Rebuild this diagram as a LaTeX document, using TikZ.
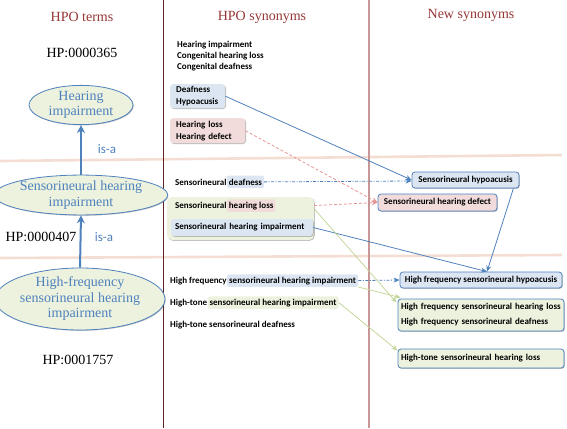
\documentclass[tikz,border=0pt]{standalone}
\usepackage{fontspec}
\setmainfont{Liberation Serif}
\newfontfamily\carl{Carlito}
\usetikzlibrary{shapes.geometric,arrows.meta,shadows,calc}
\definecolor{hdr}{RGB}{149,55,53}
\definecolor{ublue}{RGB}{79,129,189}
\definecolor{lblue}{RGB}{220,230,242}
\definecolor{lpink}{RGB}{242,220,219}
\definecolor{lgreen}{RGB}{236,242,222}
\definecolor{bandc}{RGB}{244,221,210}
\definecolor{pinkln}{RGB}{230,150,150}
\definecolor{greenln}{RGB}{195,214,155}
\definecolor{vline}{RGB}{95,35,35}
\definecolor{rline}{RGB}{200,150,150}
\begin{document}
\begin{tikzpicture}[x=1pt,y=1pt,
  shd/.style={drop shadow={shadow xshift=0.8pt,shadow yshift=-0.8pt,opacity=0.25,fill=black}},
  hdrtxt/.style={text=hdr,font=\fontsize{14}{16}\selectfont,inner sep=0},
  hptxt/.style={font=\fontsize{14}{16}\selectfont,inner sep=0},
  term/.style={ellipse,draw=ublue,line width=0.8pt,fill=lgreen,text=ublue,
    font=\fontsize{14}{15.5}\selectfont,align=center,inner sep=0,shd},
  isa/.style={draw=ublue,line width=2pt,-{Stealth[length=8pt,width=8pt]}},
  isatxt/.style={text=ublue,font=\carl\fontsize{13}{15}\selectfont,inner sep=0},
  syn/.style={font=\carl\bfseries\fontsize{9}{11}\selectfont,inner sep=0},
  hl/.style={syn,fill=#1,rounded corners=2pt,inner xsep=2pt,inner ysep=2.3pt},
  sbox/.style={font=\carl\bfseries\fontsize{9}{12}\selectfont,fill=#1,rounded corners=3pt,
    inner xsep=6pt,inner ysep=1pt,align=left,shd},
  nb/.style={syn,draw=ublue,line width=0.8pt,fill=#1,rounded corners=3pt,shd},
  nbl/.style={font=\carl\bfseries\fontsize{9}{15}\selectfont,draw=ublue,line width=0.8pt,
    fill=#1,rounded corners=3pt,text width=160pt,inner xsep=3pt,inner ysep=1pt,align=left,shd},
  tipb/.style={-{Stealth[length=6pt,width=5pt]}},
  bl/.style={draw=ublue,line width=0.8pt,tipb},
  bldd/.style={draw=ublue,line width=0.8pt,dash pattern=on 3pt off 1.5pt on 1pt off 1.5pt,tipb},
  pk/.style={draw=pinkln,line width=0.8pt,dash pattern=on 3pt off 2pt,tipb},
  gr/.style={draw=greenln,line width=0.8pt,tipb}
]
\useasboundingbox (0,0) rectangle (567,-428);

% separators
\draw[bandc,line width=2.6pt] (0,-161) -- (562,-155);
\draw[bandc,line width=2.6pt] (0,-258) -- (562,-255);
\draw[vline,line width=0.8pt] (163,0) -- (163,-428);
\draw[rline,line width=1.6pt] (369,0) -- (369,-428);

% headers
\node[hdrtxt] (h1) at (82,-17) {HPO terms};
\node[hdrtxt] (h2) at (262,-17) {HPO synonyms};
\node[hdrtxt] (h3) at (471,-15) {New synonyms};

% HPO terms
\node[hptxt] (id1) at (82,-53) {HP:0000365};
\node[hptxt] (id2) at (41,-237) {HP:0000407};
\node[hptxt] (id3) at (78,-360) {HP:0001757};
\node[term,minimum width=104pt,minimum height=36pt] (t1) at (81,-105) {Hearing\\impairment};
\node[term,minimum width=156pt,minimum height=34pt] (t2) at (81,-195) {Sensorineural hearing\\impairment};
\node[term,minimum width=154pt,minimum height=62pt] (t3) at (80,-299) {High-frequency\\sensorineural hearing\\impairment};
\draw[isa] (t2.north) -- (t1.south);
\draw[isa] (t3.north) -- (t2.south);
\node[isatxt] (isa1) at (107,-149) {is-a};
\node[isatxt] (isa2) at (104,-237) {is-a};

% HPO synonyms
\node[syn,anchor=west] (m1) at (177,-45) {Hearing impairment};
\node[syn,anchor=west] (m2) at (177,-56) {Congenital hearing loss};
\node[syn,anchor=west] (m3) at (177,-67) {Congenital deafness};
\node[sbox=lblue,text width=43pt,minimum height=24pt,anchor=north west] (dbox) at (170,-84) {Deafness\\Hypoacusis};
\node[sbox=lpink,text width=63pt,minimum height=25pt,anchor=north west] (hbox) at (170,-118) {Hearing loss\\Hearing defect};

\node[syn,anchor=base west] (sd1) at (175,-185) {Sensorineural};
\node[hl=lblue,anchor=base west,inner ysep=3pt] (sd2) at (sd1.base east) {deafness};

\node[fill=lgreen,rounded corners=5pt,minimum width=147pt,minimum height=43pt,inner sep=0,shd] (gbox) at (240.5,-218.5) {};
\node[syn,anchor=base west] (sl1) at (175,-208) {Sensorineural};
\node[hl=lpink,anchor=base west] (sl2) at (sl1.base east) {hearing loss};
\node[sbox=lblue,text width=134pt,inner xsep=4pt,minimum height=17pt] (si) at (242,-227.5) {Sensorineural hearing impairment};

\node[syn,anchor=base west] (hf1) at (170,-283) {High frequency};
\node[hl=lblue,anchor=base west] (hf2) at (hf1.base east) {sensorineural hearing impairment};
\node[syn,anchor=base west] (ht1) at (170,-305) {High-tone};
\node[hl=lgreen,anchor=base west] (ht2) at (ht1.base east) {sensorineural hearing impairment};
\node[syn,anchor=base west] (ht3) at (170,-327) {High-tone sensorineural deafness};

% New synonyms
\node[nb=lblue,minimum width=107pt,minimum height=16pt] (r1) at (465.5,-180) {Sensorineural hypoacusis};
\node[nb=lpink,minimum width=119pt,minimum height=17pt] (r2) at (437.5,-202.5) {Sensorineural hearing defect};
\node[nb=lblue,minimum width=162pt,minimum height=16pt] (r3) at (481,-280) {High frequency sensorineural hypoacusis};
\node[nbl=lgreen,minimum height=32pt] (r4) at (481,-315) {High frequency sensorineural hearing loss\\High frequency sensorineural deafness};
\node[nbl=lgreen,minimum height=19pt] (r5) at (481,-358.5) {High-tone sensorineural hearing loss};

% connector end points
\coordinate (r1in) at ($(r1.west)+(0,-1)$);
\coordinate (r1out) at ($(r1.south east)+(-6,0)$);
\coordinate (r3in) at ($(r3.north)+(6,0)$);
\coordinate (gout) at ($(gbox.north east)+(0,-12)$);
\coordinate (r4a) at ($(r4.north west)+(-1,-4)$);
\coordinate (r4b) at ($(r4.north west)+(3,1)$);
\coordinate (r5a) at ($(r5.north west)+(0,-2)$);

% connectors
\draw[bl] (dbox.east) -- (r1.west);
\draw[bldd] (sd2.east) -- (r1in);
\draw[pk] (hbox.east) -- (r2.west);
\draw[pk] (gbox.east |- sl2.east) -- (r2.west);
\draw[bl] (si.east) -- (r3in);
\draw[bl] (r1out) -- (r3in);
\draw[bldd] (hf2.east) -- (r3.west);
\draw[gr] (gout) -- (r4a);
\draw[gr] (hf2.south east) -- (r4b);
\draw[gr] (ht2.east) -- (r5a);
\end{tikzpicture}
\end{document}
